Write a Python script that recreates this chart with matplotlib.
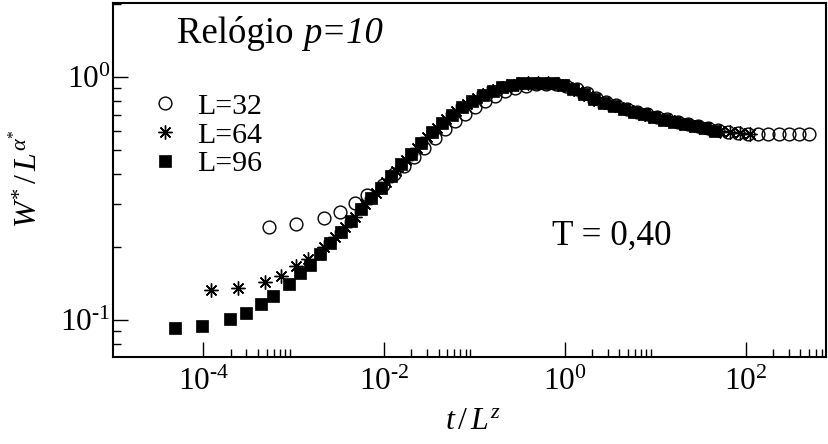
import numpy as np
import matplotlib
matplotlib.use("Agg")
import matplotlib.pyplot as plt
from matplotlib.ticker import FixedLocator, FuncFormatter, NullFormatter, LogLocator

plt.rcParams['font.family'] = ['Liberation Serif', 'DejaVu Serif']
plt.rcParams['mathtext.fontset'] = 'custom'
plt.rcParams['mathtext.rm'] = 'Liberation Serif'
plt.rcParams['mathtext.it'] = 'Liberation Serif:italic'
plt.rcParams['mathtext.bf'] = 'Liberation Serif:bold'
plt.rcParams['mathtext.fallback'] = 'stix'

# ---------------- data ----------------
series_labels = ['L=32', 'L=64', 'L=96']

# log10 of t / L^z
logx_L32 = [-3.27, -2.97, -2.67, -2.49, -2.32, -2.19, -2.01,
            -1.89, -1.78, -1.67, -1.56, -1.44, -1.33, -1.22, -1.11, -0.99,
            -0.88, -0.77, -0.66, -0.55, -0.43, -0.32, -0.21, -0.10, 0.01,
            0.13, 0.24, 0.35, 0.46, 0.57, 0.69, 0.80, 0.91, 1.02,
            1.13, 1.25, 1.36, 1.47, 1.58, 1.69, 1.81, 1.92, 2.03,
            2.14, 2.25, 2.37, 2.48, 2.59, 2.70]
y_L32 = [0.242, 0.248, 0.262, 0.278, 0.304, 0.327, 0.360,
         0.398, 0.432, 0.470, 0.512, 0.560, 0.610, 0.660, 0.708, 0.755,
         0.800, 0.840, 0.874, 0.902, 0.922, 0.935, 0.940, 0.937, 0.922,
         0.895, 0.858, 0.820, 0.790, 0.765, 0.743, 0.722, 0.705, 0.688,
         0.672, 0.657, 0.644, 0.631, 0.618, 0.606, 0.596, 0.590, 0.586,
         0.584, 0.583, 0.582, 0.582, 0.582, 0.583]

logx_L64 = [-3.92, -3.62, -3.32, -3.14, -2.97, -2.84, -2.66, -2.54, -2.43,
            -2.32, -2.21, -2.09, -1.98, -1.87, -1.76, -1.64, -1.53, -1.42, -1.31,
            -1.20, -1.08, -0.97, -0.86, -0.75, -0.64, -0.52, -0.41, -0.30, -0.19,
            -0.08, 0.04, 0.15, 0.26, 0.37, 0.48, 0.60, 0.71, 0.82, 0.93,
            1.04, 1.16, 1.27, 1.38, 1.49, 1.60, 1.72, 1.83, 1.94, 2.05]
y_L64 = [0.133, 0.136, 0.144, 0.152, 0.167, 0.178, 0.200, 0.220, 0.242,
         0.266, 0.300, 0.333, 0.370, 0.412, 0.458, 0.512, 0.565, 0.617, 0.672,
         0.724, 0.775, 0.822, 0.862, 0.893, 0.920, 0.938, 0.948, 0.950, 0.947,
         0.935, 0.910, 0.875, 0.835, 0.800, 0.775, 0.752, 0.732, 0.713, 0.695,
         0.680, 0.664, 0.650, 0.637, 0.624, 0.612, 0.601, 0.593, 0.588, 0.585]

logx_L96 = [-4.31, -4.01, -3.71, -3.53, -3.36, -3.23, -3.05, -2.93, -2.82,
            -2.71, -2.60, -2.48, -2.37, -2.26, -2.15, -2.03, -1.92, -1.81, -1.70, -1.59,
            -1.47, -1.36, -1.25, -1.14, -1.03, -0.91, -0.80, -0.69, -0.58, -0.47,
            -0.35, -0.24, -0.13, -0.02, 0.09, 0.21, 0.32, 0.43, 0.54,
            0.65, 0.77, 0.88, 0.99, 1.10, 1.21, 1.33, 1.44, 1.55, 1.66]
y_L96 = [0.093, 0.095, 0.101, 0.107, 0.116, 0.126, 0.141, 0.156, 0.168,
         0.187, 0.207, 0.230, 0.256, 0.286, 0.317, 0.351, 0.392, 0.438, 0.485, 0.538,
         0.592, 0.648, 0.700, 0.752, 0.800, 0.845, 0.880, 0.910, 0.932, 0.945,
         0.950, 0.950, 0.943, 0.925, 0.895, 0.852, 0.810, 0.782, 0.760,
         0.740, 0.720, 0.703, 0.685, 0.669, 0.656, 0.643, 0.630, 0.617, 0.603]

x_major_ticks = [1e-4, 1e-2, 1e0, 1e2]
y_major_ticks = [1e-1, 1e0]

# ---------------- figure ----------------
W, H = 829, 444
fig = plt.figure(figsize=(W / 100, H / 100), dpi=100)
ax = fig.add_axes([113 / W, 87 / H, 713 / W, 354 / H])

ax.plot(10 ** np.array(logx_L32), y_L32, linestyle='none', marker='o', ms=9.2,
        mfc='none', mec='black', mew=1.0, label=series_labels[0])
ax.plot(10 ** np.array(logx_L64), y_L64, linestyle='none', marker=(8, 2, 0), ms=10,
        mfc='black', mec='black', mew=1.0, label=series_labels[1])
ax.plot(10 ** np.array(logx_L96), y_L96, linestyle='none', marker='s', ms=8.4,
        mfc='black', mec='black', mew=0.5, label=series_labels[2])

ax.set_xscale('log')
ax.set_yscale('log')
ax.set_xlim(1e-5, 10 ** 2.89)
ax.set_ylim(0.0705, 2.02)


def pow_label(v, pos):
    e = int(round(np.log10(v)))
    es = str(e).replace('-', '\u2010')
    return r'$10^{%s}$' % es


fmt = FuncFormatter(pow_label)
ax.xaxis.set_major_locator(FixedLocator(x_major_ticks))
ax.xaxis.set_minor_locator(FixedLocator(
    [m * 10.0 ** e for e in (-4, -2, 0, 2) for m in range(2, 10)]))
ax.xaxis.set_major_formatter(fmt)
ax.xaxis.set_minor_formatter(NullFormatter())
ax.yaxis.set_major_locator(FixedLocator(y_major_ticks))
ax.yaxis.set_minor_locator(LogLocator(base=10, subs=np.arange(2, 10)))
ax.yaxis.set_major_formatter(fmt)
ax.yaxis.set_minor_formatter(NullFormatter())

ax.tick_params(which='both', direction='in', top=False, right=False,
               width=1.0, labelsize=22.5, color='black')
ax.tick_params(which='major', length=11)
ax.tick_params(which='minor', length=5.5)
ax.tick_params(axis='x', which='major', pad=8)
ax.tick_params(axis='y', which='major', pad=2)
for s in ax.spines.values():
    s.set_linewidth(1.5)

ax.set_xlabel(r'$t\,/\,L^{z}$', fontsize=23)
ax.xaxis.set_label_coords(0.505, -0.14)
ax.set_ylabel(r'$W^{*}\,/\,L^{\alpha^{*}}$', fontsize=23)
ax.yaxis.set_label_coords(-0.097, 0.505)

t1 = ax.text(0.0898, 0.887, 'Relógio ', transform=ax.transAxes,
             fontsize=26.5, ha='left', va='baseline')
ax.annotate('p=10', xy=(1, 0), xycoords=t1, fontsize=26.5, style='italic',
            ha='left', va='bottom')
ax.text(0.616, 0.316, 'T = 0,40', transform=ax.transAxes,
        fontsize=25.3, ha='left', va='baseline')

leg = ax.legend(loc='upper left', bbox_to_anchor=(0.0515, 0.746), frameon=False,
                fontsize=21.5, handlelength=1.0, handletextpad=0.6,
                labelspacing=0.06, borderpad=0, borderaxespad=0, numpoints=1)

fig.savefig('out.png', dpi=100)
